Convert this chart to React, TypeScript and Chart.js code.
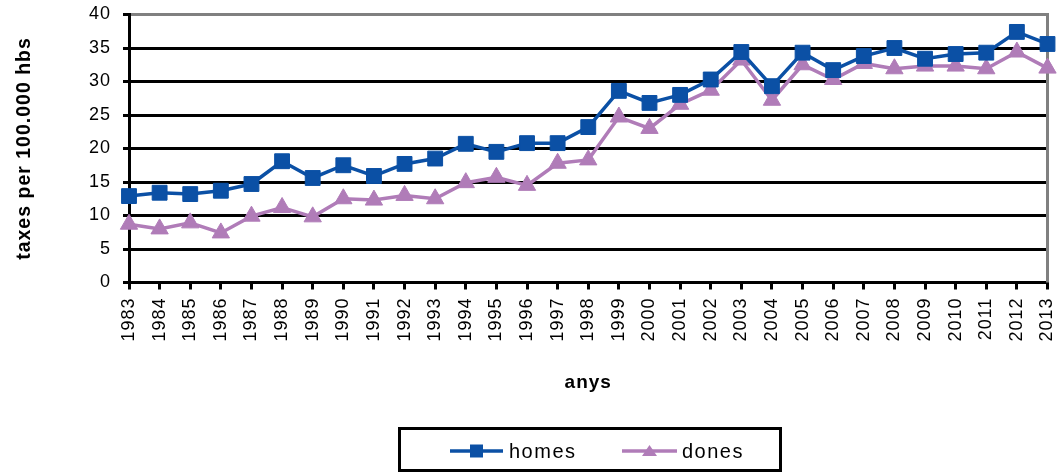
import React, { useEffect, useRef } from 'react';
import { Chart, registerables } from 'chart.js';

Chart.register(...registerables);

const years = [
  '1983', '1984', '1985', '1986', '1987', '1988', '1989', '1990', '1991', '1992', '1993',
  '1994', '1995', '1996', '1997', '1998', '1999', '2000', '2001', '2002', '2003',
  '2004', '2005', '2006', '2007', '2008', '2009', '2010', '2011', '2012', '2013',
];

const homes = [
  12.9, 13.4, 13.2, 13.7, 14.7, 18.1, 15.6, 17.5, 15.9, 17.7, 18.5,
  20.7, 19.5, 20.8, 20.8, 23.2, 28.6, 26.8, 28.0, 30.3, 34.4,
  29.3, 34.3, 31.7, 33.8, 35.0, 33.4, 34.1, 34.3, 37.4, 35.6,
];

const dones = [
  8.7, 8.0, 8.9, 7.4, 9.9, 11.2, 9.8, 12.5, 12.3, 13.0, 12.5,
  14.9, 15.7, 14.5, 17.8, 18.3, 24.7, 23.0, 26.6, 28.7, 33.2,
  27.2, 32.5, 30.3, 32.7, 31.9, 32.3, 32.3, 31.9, 34.4, 32.0,
];

const seriesNames = ['homes', 'dones'];
const yTitle = 'taxes per 100.000 hbs';
const xTitle = 'anys';
const yMin = 0;
const yMax = 40;
const yStep = 5;

const BLUE = '#0B50A5';
const PURPLE = '#B07CB8';
const FONT = "'Liberation Sans', Arial, Helvetica, sans-serif";

const stylePlugin = {
  id: 'stylePlugin',
  beforeDraw(chart: any) {
    chart.ctx.letterSpacing = '1px';
  },
  beforeDatasetsDraw(chart: any) {
    const { ctx, chartArea } = chart;
    ctx.save();
    ctx.strokeStyle = '#808080';
    ctx.lineWidth = 3;
    ctx.beginPath();
    ctx.moveTo(chartArea.right, chartArea.top - 1.5);
    ctx.lineTo(chartArea.right, chartArea.bottom);
    ctx.stroke();
    ctx.restore();
  },
  afterDraw(chart: any) {
    const ctx = chart.ctx;
    ctx.save();
    ctx.letterSpacing = '0px';
    ctx.strokeStyle = '#000';
    ctx.lineWidth = 3;
    ctx.strokeRect(399.5, 428.5, 381, 42);
    const cy = 451;
    const items = [
      { label: seriesNames[0], color: BLUE, style: 'rect', x0: 450, x1: 503, tx: 509 },
      { label: seriesNames[1], color: PURPLE, style: 'triangle', x0: 622, x1: 677, tx: 682 },
    ];
    for (const it of items) {
      ctx.strokeStyle = it.color;
      ctx.fillStyle = it.color;
      ctx.lineWidth = 3.5;
      ctx.beginPath();
      ctx.moveTo(it.x0, cy);
      ctx.lineTo(it.x1, cy);
      ctx.stroke();
      const mx = (it.x0 + it.x1) / 2;
      ctx.beginPath();
      if (it.style === 'rect') {
        ctx.rect(mx - 6.5, cy - 6.5, 13, 13);
      } else {
        ctx.moveTo(mx, cy - 6);
        ctx.lineTo(mx + 7.5, cy + 5);
        ctx.lineTo(mx - 7.5, cy + 5);
        ctx.closePath();
      }
      ctx.fill();
      ctx.fillStyle = '#000';
      ctx.letterSpacing = '1.5px';
      ctx.font = `20px ${FONT}`;
      ctx.textBaseline = 'middle';
      ctx.textAlign = 'left';
      ctx.fillText(it.label, it.tx, cy + 1);
      ctx.letterSpacing = '0px';
    }
    ctx.restore();
  },
};

export default function App() {
  const canvasRef = useRef<HTMLCanvasElement | null>(null);

  useEffect(() => {
    document.body.style.margin = '0';
    const canvas = canvasRef.current;
    if (!canvas) return;
    const chart = new Chart(canvas, {
      type: 'line',
      data: {
        labels: years,
        datasets: [
          {
            label: seriesNames[0],
            data: homes,
            borderColor: BLUE,
            backgroundColor: BLUE,
            borderWidth: 3.5,
            pointStyle: 'rect',
            pointRadius: 10.5,
            pointBorderWidth: 1,
            pointBackgroundColor: BLUE,
            pointBorderColor: BLUE,
            tension: 0,
          },
          {
            label: seriesNames[1],
            data: dones,
            borderColor: PURPLE,
            backgroundColor: PURPLE,
            borderWidth: 3.5,
            pointStyle: 'triangle',
            pointRadius: 10,
            pointBorderWidth: 1,
            pointBackgroundColor: PURPLE,
            pointBorderColor: PURPLE,
            tension: 0,
          },
        ],
      },
      options: {
        responsive: false,
        animation: false,
        devicePixelRatio: 1,
        layout: { padding: { left: 0, right: 11, top: 14.5, bottom: 80 } },
        plugins: {
          legend: { display: false },
          tooltip: { enabled: false },
        },
        scales: {
          x: {
            type: 'category',
            offset: false,
            grid: {
              display: true,
              drawOnChartArea: false,
              drawTicks: true,
              tickLength: 7,
              color: '#000',
              lineWidth: 3,
              offset: false,
            },
            border: { display: true, color: '#000', width: 3 },
            ticks: {
              autoSkip: false,
              minRotation: 90,
              maxRotation: 90,
              padding: 8,
              color: '#000',
              font: { family: FONT, size: 18 },
            },
            title: {
              display: true,
              text: xTitle,
              color: '#000',
              font: { family: FONT, size: 19, weight: 'bold' },
              padding: { top: 0, bottom: 0 },
            },
            afterFit(scale: any) {
              scale.height = 111.5;
              scale.paddingLeft = 0;
              scale.paddingRight = 0;
            },
          },
          y: {
            min: yMin,
            max: yMax,
            ticks: {
              stepSize: yStep,
              padding: 12,
              color: '#000',
              font: { family: FONT, size: 18 },
            },
            grid: {
              display: true,
              drawTicks: true,
              tickLength: 6,
              lineWidth: 3,
              tickColor: '#000',
              tickWidth: 3,
              color: (c: any) => (c.tick && c.tick.value === yMax ? '#808080' : '#000'),
            },
            border: { display: true, color: '#000', width: 3 },
            title: {
              display: true,
              text: yTitle,
              color: '#000',
              font: { family: FONT, size: 19.5, weight: 'bold' },
              padding: { top: 13, bottom: 0 },
            },
            afterFit(scale: any) {
              scale.width = 129;
              scale.paddingTop = 0;
              scale.paddingBottom = 0;
            },
          },
        },
      },
      plugins: [stylePlugin],
    } as any);
    return () => chart.destroy();
  }, []);

  return (
    <div style={{ width: 1059, height: 474 }}>
      <canvas ref={canvasRef} width={1059} height={474} style={{ display: 'block' }} />
    </div>
  );
}
